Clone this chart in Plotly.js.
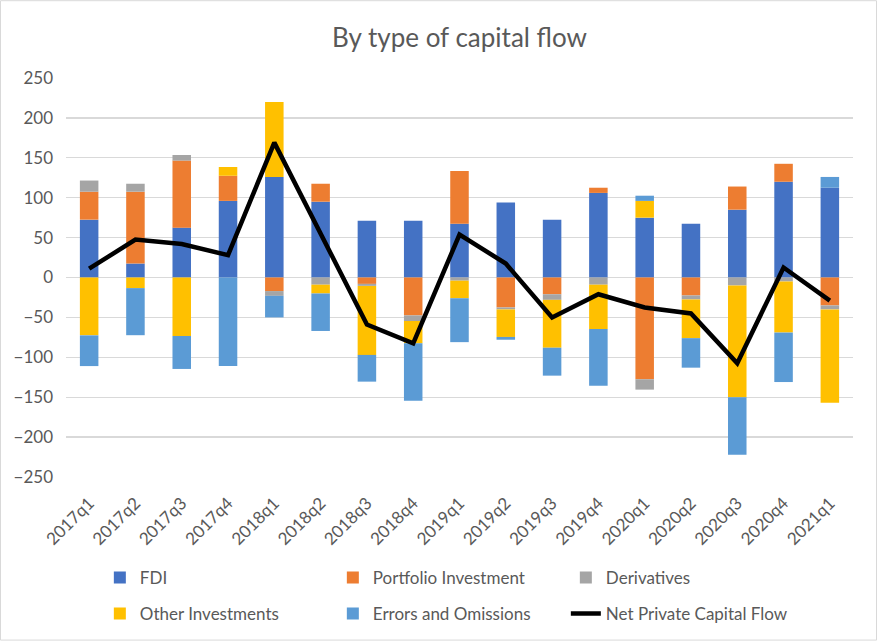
<!DOCTYPE html>
<html>
<head>
<meta charset="utf-8">
<script src="https://cdn.plot.ly/plotly-3.0.1.min.js"></script>
<style>html,body{margin:0;padding:0;background:#fff;}#chart{width:877px;height:642px;}</style>
</head>
<body>
<div id="chart"></div>
<script>
const quarters = ['2017q1','2017q2','2017q3','2017q4','2018q1','2018q2','2018q3','2018q4','2019q1','2019q2','2019q3','2019q4','2020q1','2020q2','2020q3','2020q4','2021q1'];
const fdi = [72.5, 17.5, 62.5, 96, 126, 95, 71, 71, 67.5, 94, 72.5, 106, 75, 67.5, 85, 120, 112.5];
const portfolio = [35, 90, 84, 31.5, -17, 22.5, -8, -47.5, 66, -37.5, -21, 6.5, -127.5, -22.5, 29, 22.5, -35];
const derivatives = [14, 10, 7, 0, -6, -9, -2.5, -7, -4, -2.5, -7, -9, -13, -5, -10, -5, -5];
const otherInv = [-72.5, -13.3, -73.3, 11, 94, -11, -86.5, -28, -22, -34.5, -60, -55.6, 21, -48.5, -140, -64, -117];
const errors = [-38.5, -59, -41.3, -111, -27, -47, -33.5, -72, -55, -3.5, -35, -71, 6.5, -37, -72, -62, 13.5];
const netFlow = [11, 47.5, 42, 28, 169, 55, -59, -82.5, 53.75, 17.5, -50, -21, -37.5, -45, -107.5, 12.5, -29];
const yTicks = [-250, -200, -150, -100, -50, 0, 50, 100, 150, 200, 250];

const FONT = 'Lato, "Open Sans", sans-serif';
const TXT = '#595959';

function bar(name, y, color, legend) {
  return {type: 'bar', name: name, x: quarters, y: y, marker: {color: color}, legend: legend, hoverinfo: 'x+y+name'};
}

const traces = [
  bar('FDI', fdi, '#4472C4', 'legend'),
  bar('Portfolio Investment', portfolio, '#ED7D31', 'legend'),
  bar('Derivatives', derivatives, '#A5A5A5', 'legend'),
  bar('Other Investments', otherInv, '#FFC000', 'legend2'),
  bar('Errors and Omissions', errors, '#5B9BD5', 'legend2'),
  {type: 'scatter', mode: 'lines', name: 'Net Private Capital Flow', x: quarters, y: netFlow,
   line: {color: '#000000', width: 4.5}, legend: 'legend2'}
];

const legendCommon = {
  orientation: 'h', xanchor: 'left', yanchor: 'middle',
  entrywidth: 188, entrywidthmode: 'pixels', itemwidth: 30,
  font: {family: FONT, size: 17, color: TXT}, bgcolor: 'rgba(0,0,0,0)', traceorder: 'normal'
};

const layout = {
  width: 877, height: 642,
  margin: {l: 66, r: 24, t: 78, b: 164},
  paper_bgcolor: '#ffffff', plot_bgcolor: '#ffffff',
  barmode: 'relative', bargap: 0.6,
  title: {text: 'By type of capital flow', x: 0.5, xref: 'paper', xanchor: 'center', y: 1 - 38/642, yanchor: 'middle',
          font: {family: FONT, size: 26, color: TXT}},
  xaxis: {type: 'category', tickangle: -45, showgrid: false, zeroline: false, showline: false,
          tickfont: {family: FONT, size: 17, color: TXT}, ticks: '', ticklabelstandoff: 12, automargin: false},
  yaxis: {range: [-250, 250], tickvals: yTicks, showgrid: true, gridcolor: '#d9d9d9', gridwidth: 1.3,
          zeroline: true, zerolinecolor: '#d9d9d9', zerolinewidth: 1.3, showline: false, ticks: '',
          ticklabelstandoff: 12, tickfont: {family: FONT, size: 17, color: TXT}, automargin: false},
  legend: Object.assign({}, legendCommon, {x: 0.043, y: (478 - 578) / 400}),
  legend2: Object.assign({}, legendCommon, {x: 0.043, y: (478 - 614) / 400}),
  shapes: [{type: 'rect', xref: 'paper', yref: 'paper', x0: -65.5/787, x1: (876.5-66)/787, y0: (478-641.5)/400, y1: (478-0.5)/400,
            line: {color: '#d9d9d9', width: 1}, fillcolor: 'rgba(0,0,0,0)', layer: 'below'}],
  showlegend: true
};

Plotly.newPlot('chart', traces, layout, {displayModeBar: false, staticPlot: true});
</script>
</body>
</html>
